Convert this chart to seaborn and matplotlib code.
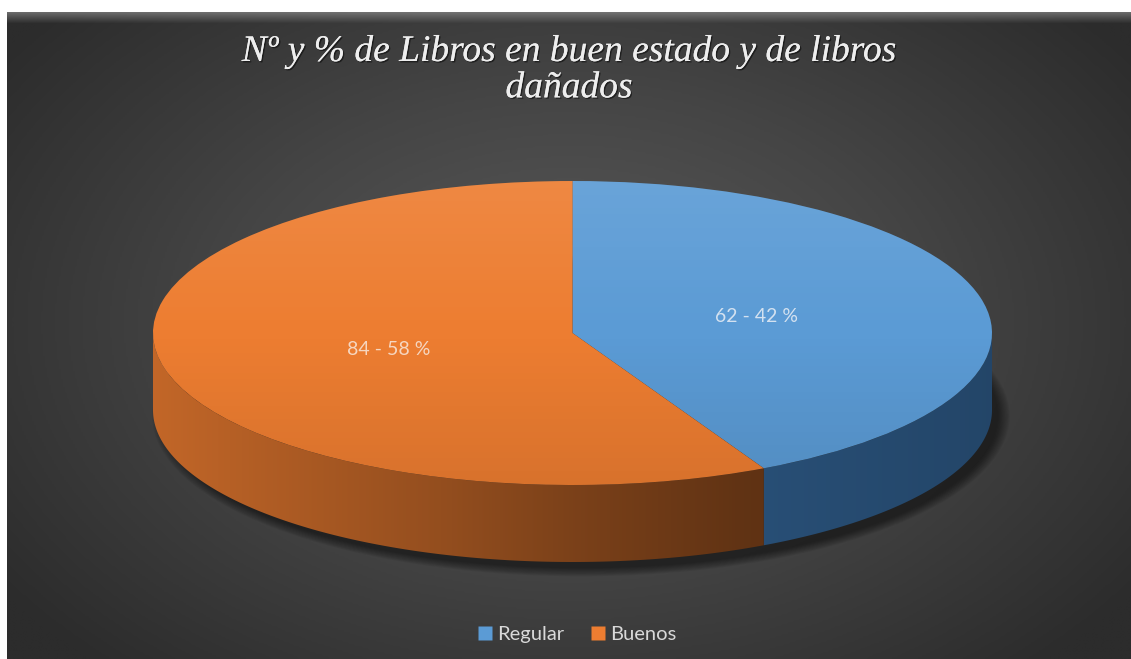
import numpy as np
import matplotlib
matplotlib.use("Agg")
import matplotlib.pyplot as plt
import matplotlib.patches as mpatches
import matplotlib.patheffects as pe
import matplotlib.colors as mcolors
from matplotlib.lines import Line2D
import seaborn as sns

# Datos del gráfico
categorias = ["Regular", "Buenos"]
cantidades = [62, 84]
colores = ["#5b9bd5", "#ed7d31"]
colores_lado = ["#4f9be8", "#ed7d31"]
titulo = "Nº y % de Libros en buen estado y de libros\ndañados"

sns.set_theme(style="white")
plt.rcParams["font.family"] = ["Lato", "DejaVu Sans"]

W, H = 1131, 659
fig = plt.figure(figsize=(W / 100, H / 100), dpi=100)
fig.patch.set_facecolor("white")


def caja(x0, y0, w, h):
    # rectangulo en pixeles (desde arriba-izquierda) -> fracciones de figura
    return [x0 / W, 1 - (y0 + h) / H, w / W, h / H]


# Panel oscuro con degradado radial
bg = fig.add_axes(caja(7, 12, W - 7, H - 12))
yy, xx = np.mgrid[0:1:330j, 0:1:560j]
dist = np.sqrt(((xx - 0.5) / 0.62) ** 2 + ((yy - 0.48) / 0.72) ** 2)
cmap_bg = mcolors.LinearSegmentedColormap.from_list("bg", ["#5a5a5a", "#454545", "#2c2c2c"])
bg.imshow(np.clip(dist, 0, 1), cmap=cmap_bg, vmin=0, vmax=1, extent=[0, 1, 0, 1],
          aspect="auto", origin="upper", interpolation="bilinear")
# bisel superior
bisel = np.linspace(0.55, 0.0, 12)[:, None]
bisel_rgba = np.zeros((12, 2, 4))
bisel_rgba[..., :3] = 0.62
bisel_rgba[..., 3] = bisel
bg.imshow(bisel_rgba, extent=[0, 1, 1 - 12 / (H - 12), 1], aspect="auto", origin="upper", zorder=2)
bg.set_xlim(0, 1)
bg.set_ylim(0, 1)
bg.set_axis_off()

# Ejes de la torta (elipse: semieje x 419.5 px, semieje y 152 px)
a, b = 419.5, 152.0
cx, cy = 572.5, 333.0
xl, yt, yb = 1.3, 1.2, 1.75
ax = fig.add_axes(caja(cx - xl * a, cy - yt * b, 2 * xl * a, (yt + yb) * b))
ax.patch.set_alpha(0)

total = sum(cantidades)


def etiqueta(pct):
    n = int(round(pct * total / 100.0))
    return f"{n} - {pct:.0f} %"


wedges, texts, autotexts = ax.pie(
    cantidades, colors=colores, startangle=90, counterclock=False,
    autopct=etiqueta, pctdistance=0.45, wedgeprops=dict(linewidth=0),
    textprops=dict(fontsize=14))
for w in wedges:
    w.set_zorder(2)
autotexts[0].set_color("#d3e1f0")
autotexts[1].set_color("#f6d6c0")
for t in autotexts:
    t.set_zorder(4)

# Lateral del cilindro: degradado horizontal recortado a cada cuña
prof = 77 / b
xs = np.linspace(-1, 1, 600)
fac = np.interp(xs, [-1, -0.3, 0, 0.4, 1], [0.82, 0.62, 0.52, 0.41, 0.36])
for w, c, mult in zip(wedges, colores_lado, [1.25, 1.0]):
    base = np.array(mcolors.to_rgb(c))
    t = np.radians(np.linspace(w.theta1, w.theta2, 800))
    vis = np.sin(t) <= 1e-9
    # tramos contiguos visibles (mitad delantera)
    idx = np.flatnonzero(np.diff(np.concatenate([[0], vis.astype(int), [0]])))
    for i0, i1 in zip(idx[::2], idx[1::2]):
        tt = t[i0:i1]
        if len(tt) < 2:
            continue
        sup = np.column_stack([np.cos(tt), np.sin(tt)])
        inf = np.column_stack([np.cos(tt[::-1]), np.sin(tt[::-1]) - prof])
        poly = mpatches.Polygon(np.vstack([sup, inf]), closed=True, transform=ax.transData)
        rgb = np.clip(base[None, :] * (fac * mult)[:, None], 0, 1)[None, :, :]
        im = ax.imshow(rgb, extent=[-1, 1, -1 - prof, 0], aspect="auto", zorder=1,
                       interpolation="bilinear")
        im.set_clip_path(poly)

# Sombra suave bajo la torta
for k in range(10):
    ax.add_patch(mpatches.Ellipse((0.02, -prof - 0.04), 1.99 + 0.006 * k, 2.0 + 0.012 * k,
                                  color="black", alpha=0.055, lw=0, zorder=0.5))

# Brillo sutil sobre la cara superior
v = np.linspace(0, 1, 200)
grad = np.zeros((200, 2, 4))
grad[..., :3] = np.where(v < 0.5, 1.0, 0.0)[:, None, None]
grad[..., 3] = (np.abs(v - 0.5) * 0.18)[:, None]
img = ax.imshow(grad, extent=[-1, 1, -1, 1], aspect="auto", origin="upper", zorder=3)
img.set_clip_path(mpatches.Circle((0, 0), 1, transform=ax.transData))

ax.set_aspect("auto")
ax.set_xlim(-xl, xl)
ax.set_ylim(-yb, yt)
ax.set_axis_off()

# Título
fig.text(569 / W, 1 - 34 / H, titulo, ha="center", va="top", multialignment="center",
         fontsize=27, fontstyle="italic", family=["Liberation Serif", "DejaVu Serif"],
         color="#eeeeee", linespacing=1.07,
         path_effects=[pe.withSimplePatchShadow(offset=(1, -1), shadow_rgbFace="black", alpha=0.5),
                       pe.Normal()])

# Leyenda
handles = [Line2D([], [], marker="s", color="none", markerfacecolor=c, markeredgecolor="none",
                  markersize=9.5, label=cat) for cat, c in zip(categorias, colores)]
fig.legend(handles=handles, loc="center", bbox_to_anchor=(577 / W, 1 - 634 / H), ncol=2,
           frameon=False, labelcolor="#d9d9d9", fontsize=14.5, handlelength=0.7,
           handletextpad=0.25, columnspacing=1.3)

fig.savefig("out.png", dpi=100, facecolor="white")
